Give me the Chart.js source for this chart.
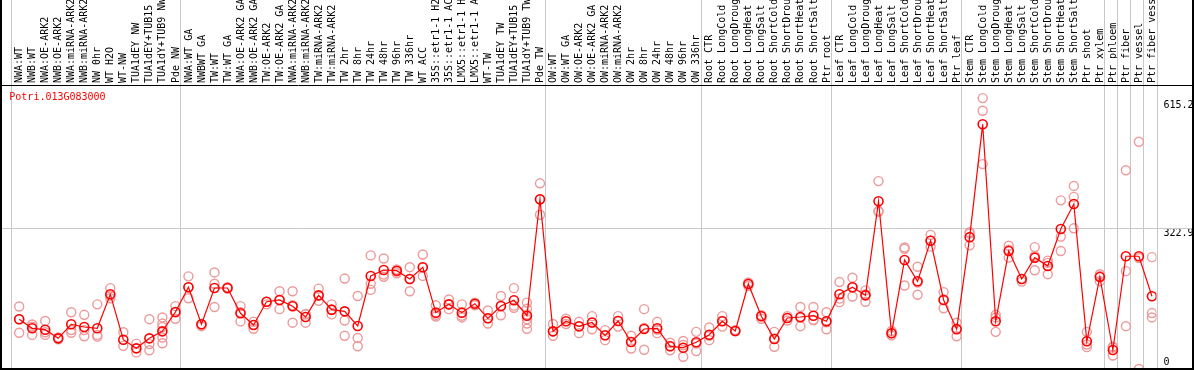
<!doctype html>
<html lang="en">
  <head>
    <meta charset="UTF-8" />
    <title>Potri.013G083000</title>
    <script src="https://cdn.jsdelivr.net/npm/chart.js"></script>
    <style>
      body {
        margin: 0;
        padding: 0;
        background: #fff;
      }
      canvas {
        display: block;
      }
    </style>
  </head>
  <body>
    <canvas id="expr" width="1194" height="370"></canvas>

    <script>
      const geneId = 'Potri.013G083000';

      const labels = [
        'NWA:WT', 'NWB:WT', 'NWA:OE-ARK2', 'NWB:OE-ARK2', 'NWA:miRNA-ARK2', 'NWB:miRNA-ARK2',
        'NW 0hr', 'WT H2O', 'WT-NW', 'TUA1dEY NW', 'TUA1dEY+TUB15 NW', 'TUA1dY+TUB9 NW', 'Pde NW',
        'NWA:WT GA', 'NWBWT GA', 'TW:WT', 'TW:WT GA', 'NWA:OE-ARK2 GA', 'NWB:OE-ARK2 GA',
        'TW:OE-ARK2', 'TW:OE-ARK2 GA', 'NWA:miRNA-ARK2 GA', 'NWB:miRNA-ARK2 GA', 'TW:miRNA-ARK2',
        'TW:miRNA-ARK2 GA', 'TW 2hr', 'TW 8hr', 'TW 24hr', 'TW 48hr', 'TW 96hr', 'TW 336hr',
        'WT ACC', '35S::etr1-1 H2O', '35S::etr1-1 ACC', 'LMX5::etr1-1 H2O', 'LMX5::etr1-1 ACC',
        'WT-TW', 'TUA1dEY TW', 'TUA1dEY+TUB15 TW', 'TUA1dY+TUB9 TW', 'Pde TW',
        'OW:WT', 'OW:WT GA', 'OW:OE-ARK2', 'OW:OE-ARK2 GA', 'OW:miRNA-ARK2', 'OW:miRNA-ARK2 GA',
        'OW 2hr', 'OW 8hr', 'OW 24hr', 'OW 48hr', 'OW 96hr', 'OW 336hr',
        'Root CTR', 'Root LongCold', 'Root LongDrought', 'Root LongHeat', 'Root LongSalt',
        'Root ShortCold', 'Root ShortDrought', 'Root ShortHeat', 'Root ShortSalt', 'Ptr root',
        'Leaf CTR', 'Leaf LongCold', 'Leaf LongDrought', 'Leaf LongHeat', 'Leaf LongSalt',
        'Leaf ShortCold', 'Leaf ShortDrought', 'Leaf ShortHeat', 'Leaf ShortSalt', 'Ptr leaf',
        'Stem CTR', 'Stem LongCold', 'Stem LongDrought', 'Stem LongHeat', 'Stem LongSalt',
        'Stem ShortCold', 'Stem ShortDrought', 'Stem ShortHeat', 'Stem ShortSalt', 'Ptr shoot',
        'Ptr xylem', 'Ptr phloem', 'Ptr fiber', 'Ptr vessel', 'Ptr fiber vessel',
      ];

      // first column of each block (separator lines)
      const groupStarts = [0, 13, 41, 53, 63, 73, 84, 85, 86, 87, 88];

      const means = [
        113.8, 93.1, 90, 70.2, 102.3, 96.1, 93.1, 171, 67.1, 47.3, 70.2, 86.2, 130.5,
        187, 102.3, 185.4, 185.4, 127.5, 100.7, 154, 158, 143.5, 119, 168.6, 135.8, 132, 98.4,
        212.9, 226.6, 225, 206, 232.8, 129, 148, 129, 149.5, 116, 144.2, 157.2, 122, 388.4,
        86.2, 109.2, 97.7, 106.5, 77.1, 109.9, 61.8, 91.6, 93.1, 51.9, 48.8, 61.1,
        78.5, 109.2, 87, 194.6, 120.6, 68.7, 116.7, 119, 122, 109.2,
        171, 187, 168.6, 383.8, 81.7, 249.5, 200.7, 293.7, 158, 91.2,
        301.8, 560, 109.2, 270, 206, 254.8, 235.8, 320.5, 377.7, 63.4, 210.6,
        43.5, 258, 258, 166.4,
      ];

      const replicates = [
        [143, 114, 83], [102, 97, 78], [110, 84, 78], [72, 68], [130, 89, 83], [124, 89, 75],
        [148, 78, 74], [185, 168, 162], [84, 53], [58, 38], [114, 57, 43], [118, 104, 96, 72, 59],
        [144, 130, 115],
        [212, 187, 162], [102, 98], [221, 195, 142], [187, 184], [144, 130, 109], [108, 101, 92],
        [154, 148], [178, 158, 137], [178, 146, 106], [126, 125, 106], [184, 168, 156],
        [148, 135, 125], [207, 111, 76], [167, 71, 52], [260, 195, 181], [253, 211, 216],
        [228, 223, 219], [233, 206, 178], [262, 233, 213], [146, 124, 120], [159, 148, 137],
        [148, 122, 118], [152, 149, 146], [134, 116, 104], [167, 144, 123], [185, 145, 140],
        [152, 138, 125, 114, 104, 92], [425, 388, 353],
        [103, 86, 76], [115, 103], [108, 97, 82], [121, 106, 91], [89, 77, 66], [121, 110, 97],
        [76, 62, 47], [137, 94, 44], [108, 90, 82], [60, 52, 43], [64, 55, 28], [85, 58, 41],
        [95, 76, 66], [121, 110, 97], [89, 86], [198, 195, 190], [123, 121, 115], [85, 70, 51],
        [121, 117, 111], [142, 117, 98], [142, 112, 112], [130, 107, 91],
        [199, 161, 153], [209, 187, 166], [180, 171, 154], [430, 362, 360], [87, 82, 77],
        [278, 275, 191], [234, 198, 170], [307, 294, 280], [176, 159, 139], [106, 92, 75],
        [313, 310, 283], [620, 591, 469], [124, 118, 85], [282, 273, 255], [206, 200],
        [279, 259, 226], [248, 243, 217], [386, 303, 270], [419, 394, 322], [85, 56, 50],
        [217, 213, 201],
        [51, 49, 31], [455, 224, 98], [520, 254, 0], [256, 128, 118],
      ];

      const yTicks = [0, 322.9, 615.2];
      const midLine = 322.9;

      const monoFont = { family: 'DejaVu Sans Mono', size: 10 };

      const meanPoints = means.map((v, i) => ({ x: i, y: v }));
      const repPoints = [];
      replicates.forEach((reps, i) => {
        reps.forEach((v) => repPoints.push({ x: i, y: v }));
      });

      const framePlugin = {
        id: 'frame',
        beforeDraw(chart) {
          const ctx = chart.ctx;
          ctx.save();
          ctx.fillStyle = '#fff';
          ctx.fillRect(0, 0, chart.width, chart.height);
          ctx.restore();
        },
        beforeDatasetsDraw(chart) {
          const { ctx, chartArea, scales } = chart;
          ctx.save();
          ctx.strokeStyle = '#c8c8c8';
          ctx.lineWidth = 1;
          groupStarts.forEach((k) => {
            const x = Math.round(scales.x.getPixelForValue(k - 0.65)) + 0.5;
            ctx.beginPath();
            ctx.moveTo(x, 0);
            ctx.lineTo(x, chartArea.bottom);
            ctx.stroke();
          });
          const y = Math.round(scales.y.getPixelForValue(midLine)) + 0.5;
          ctx.beginPath();
          ctx.moveTo(0, y);
          ctx.lineTo(chart.width, y);
          ctx.stroke();

          ctx.fillStyle = '#ff0000';
          ctx.font = '10px "DejaVu Sans Mono"';
          ctx.textBaseline = 'middle';
          ctx.fillText(geneId, 9.3, 97.5);
          ctx.restore();
        },
        afterDraw(chart) {
          const { ctx, chartArea } = chart;
          ctx.save();
          ctx.strokeStyle = '#000';
          ctx.lineWidth = 1;
          ctx.beginPath();
          ctx.moveTo(0, chartArea.top + 0.5);
          ctx.lineTo(chart.width, chartArea.top + 0.5);
          ctx.stroke();
          ctx.lineWidth = 2;
          ctx.beginPath();
          ctx.moveTo(1, 0);
          ctx.lineTo(1, chartArea.bottom);
          ctx.lineTo(chart.width - 1, chartArea.bottom);
          ctx.lineTo(chart.width - 1, 0);
          ctx.stroke();
          ctx.restore();
        },
      };

      const ctx = document.getElementById('expr').getContext('2d');
      new Chart(ctx, {
        type: 'scatter',
        data: {
          datasets: [
            {
              label: geneId,
              data: meanPoints,
              showLine: true,
              borderColor: '#ff0000',
              borderWidth: 1.2,
              pointRadius: 4.5,
              pointBorderWidth: 1.6,
              pointBorderColor: '#ff0000',
              pointBackgroundColor: 'rgba(0,0,0,0)',
              order: 0,
            },
            {
              label: 'replicates',
              data: repPoints,
              showLine: false,
              pointRadius: 4.5,
              pointBorderWidth: 1.4,
              pointBorderColor: '#ec9a9a',
              pointBackgroundColor: 'rgba(0,0,0,0)',
              order: 1,
            },
          ],
        },
        options: {
          responsive: false,
          animation: false,
          layout: { autoPadding: false, padding: { left: 10.7, right: 0, top: 0, bottom: 1 } },
          plugins: {
            legend: { display: false },
            tooltip: { enabled: false },
          },
          scales: {
            x: {
              type: 'linear',
              position: 'top',
              min: -0.65,
              max: 87.35,
              afterBuildTicks: (scale) => {
                scale.ticks = labels.map((_, i) => ({ value: i }));
              },
              afterFit: (scale) => {
                scale.height = 85;
                scale.paddingLeft = 0;
                scale.paddingRight = 0;
              },
              grid: { display: false, drawTicks: false },
              border: { display: false },
              ticks: {
                autoSkip: false,
                minRotation: 90,
                maxRotation: 90,
                padding: 2,
                labelOffset: 12.5,
                color: '#000',
                font: monoFont,
                callback: (value, index) => labels[index],
              },
            },
            y: {
              type: 'linear',
              position: 'right',
              min: 0,
              max: 650,
              afterBuildTicks: (scale) => {
                scale.ticks = yTicks.map((v) => ({ value: v }));
              },
              afterFit: (scale) => {
                scale.width = 37.5;
                scale.paddingTop = 0;
                scale.paddingBottom = 0;
              },
              grid: { display: false, drawTicks: false },
              border: { display: false },
              ticks: {
                padding: 7,
                labelOffset: 5,
                color: '#000',
                font: monoFont,
                callback: (value) => (value === 0 ? ['0', '', ''] : value.toFixed(1)),
              },
            },
          },
        },
        plugins: [framePlugin],
      });
    </script>
  </body>
</html>
